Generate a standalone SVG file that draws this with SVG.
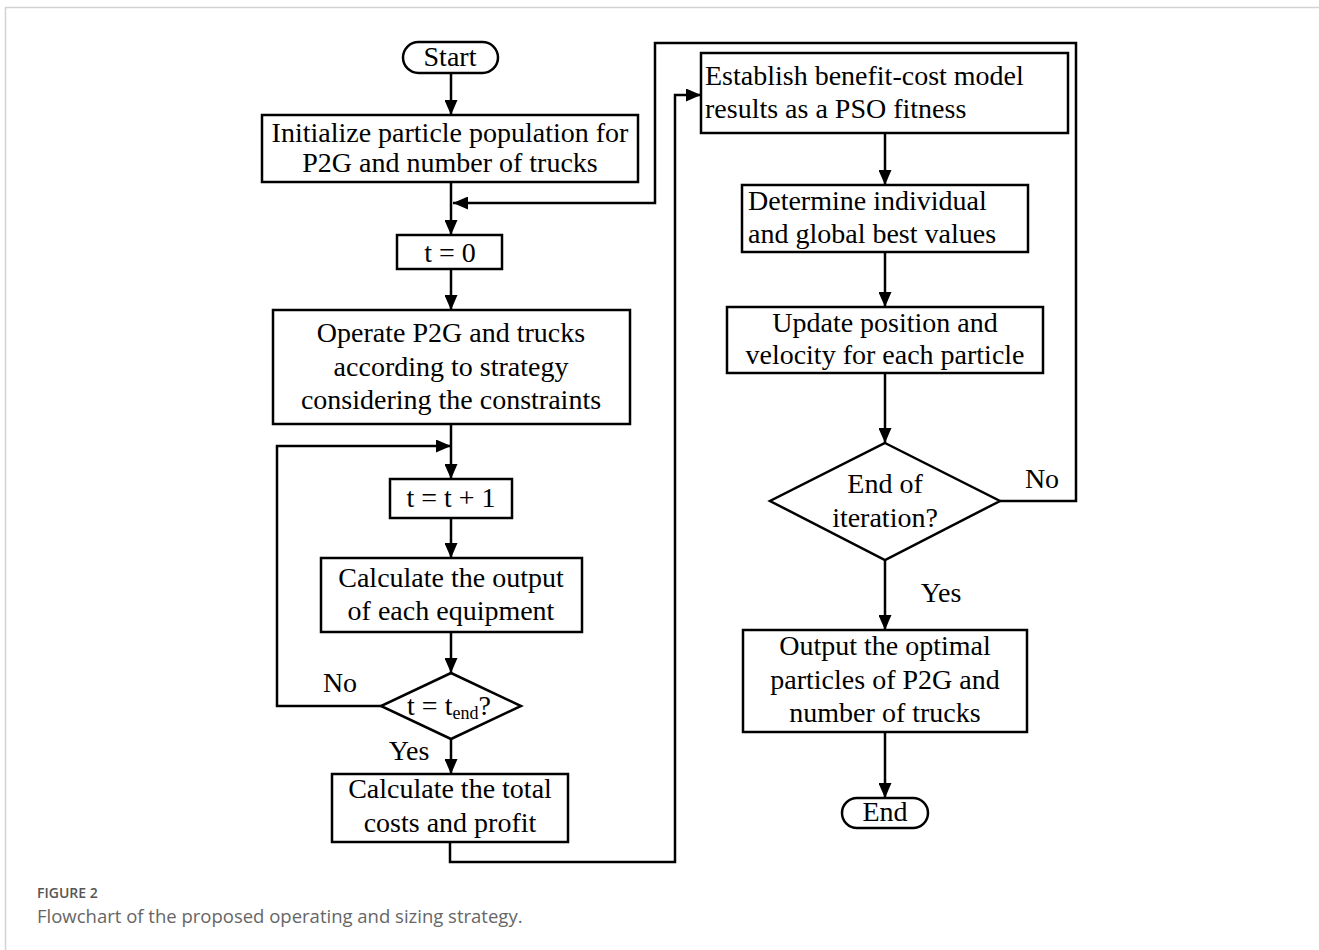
<svg xmlns="http://www.w3.org/2000/svg" width="1319" height="950" viewBox="0 0 1319 950">
<defs>
<marker id="ah" markerUnits="userSpaceOnUse" markerWidth="15" markerHeight="13" refX="15" refY="6.5" orient="auto">
<path d="M0,0 L15,6.5 L0,13 z" fill="#000"/>
</marker>
<style>
.n{fill:#fff;stroke:#000;stroke-width:2.5}
.c{fill:none;stroke:#000;stroke-width:2.5}
.t{font-family:"Liberation Serif","Times New Roman",serif;font-size:28px;fill:#000}
.m{text-anchor:middle}
.cap1{font-family:"Open Sans","Noto Sans",sans-serif;font-size:14px;font-weight:600;fill:#555}
.cap2{font-family:"Open Sans","Noto Sans",sans-serif;font-size:18.5px;fill:#666}
</style>
</defs>
<rect width="1319" height="950" fill="#fff"/>
<path d="M5.5,950 V7.5 H1319" fill="none" stroke="#d2d2d2" stroke-width="1.5"/>

<g id="connectors">
<path class="c" d="M451,73 V115" marker-end="url(#ah)"/>
<path class="c" d="M451,182 V235" marker-end="url(#ah)"/>
<path class="c" d="M1000,501 H1076 V43 H655 V203 H453" marker-end="url(#ah)"/>
<path class="c" d="M451,269 V310" marker-end="url(#ah)"/>
<path class="c" d="M451,424 V479" marker-end="url(#ah)"/>
<path class="c" d="M382,706 H277 V446 H451" marker-end="url(#ah)"/>
<path class="c" d="M451,518 V558" marker-end="url(#ah)"/>
<path class="c" d="M451,632 V673" marker-end="url(#ah)"/>
<path class="c" d="M451,739 V774" marker-end="url(#ah)"/>
<path class="c" d="M450,842 V862 H675 V95 H701" marker-end="url(#ah)"/>
<path class="c" d="M885,133 V185" marker-end="url(#ah)"/>
<path class="c" d="M885,252 V307" marker-end="url(#ah)"/>
<path class="c" d="M885,373 V443" marker-end="url(#ah)"/>
<path class="c" d="M885,560 V630" marker-end="url(#ah)"/>
<path class="c" d="M885,732 V798" marker-end="url(#ah)"/>
<text class="t m" x="340" y="692">No</text>
<text class="t m" x="409" y="760">Yes</text>
<text class="t m" x="1042" y="488">No</text>
<text class="t m" x="941" y="602">Yes</text>
</g>

<g id="start">
<rect class="n" x="403" y="42" width="95" height="31" rx="15.5"/>
<text class="t m" x="450" y="66">Start</text>
</g>
<g id="init">
<rect class="n" x="262" y="115" width="376" height="67"/>
<text class="t m" x="450" y="142">Initialize particle population for</text>
<text class="t m" x="450" y="172">P2G and number of trucks</text>
</g>
<g id="t0">
<rect class="n" x="397" y="235" width="105" height="34"/>
<text class="t m" x="450" y="262">t = 0</text>
</g>
<g id="operate">
<rect class="n" x="273" y="310" width="357" height="114"/>
<text class="t m" x="451" y="342">Operate P2G and trucks</text>
<text class="t m" x="451" y="376">according to strategy</text>
<text class="t m" x="451" y="409">considering the constraints</text>
</g>
<g id="tinc">
<rect class="n" x="390" y="479" width="122" height="39"/>
<text class="t m" x="451" y="507">t = t + 1</text>
</g>
<g id="calcout">
<rect class="n" x="321" y="558" width="261" height="74"/>
<text class="t m" x="451" y="587">Calculate the output</text>
<text class="t m" x="451" y="620">of each equipment</text>
</g>
<g id="tend">
<polygon class="n" points="451,673 521,706 451,739 381,706"/>
<text class="t m" x="449" y="715">t = t<tspan font-size="18" dy="4">end</tspan><tspan dy="-4">?</tspan></text>
</g>
<g id="calctotal">
<rect class="n" x="332" y="774" width="236" height="68"/>
<text class="t m" x="450" y="798">Calculate the total</text>
<text class="t m" x="450" y="832">costs and profit</text>
</g>
<g id="establish">
<rect class="n" x="701" y="53" width="367" height="80"/>
<text class="t" x="705" y="85">Establish benefit-cost model</text>
<text class="t" x="705" y="118">results as a PSO fitness</text>
</g>
<g id="determine">
<rect class="n" x="742" y="185" width="286" height="67"/>
<text class="t" x="748" y="210">Determine individual</text>
<text class="t" x="748" y="243">and global best values</text>
</g>
<g id="update">
<rect class="n" x="727" y="307" width="316" height="66"/>
<text class="t m" x="885" y="332">Update position and</text>
<text class="t m" x="885" y="364">velocity for each particle</text>
</g>
<g id="enditer">
<polygon class="n" points="885,443 1000,501 885,560 770,501"/>
<text class="t m" x="885" y="493">End of</text>
<text class="t m" x="885" y="527">iteration?</text>
</g>
<g id="output">
<rect class="n" x="743" y="630" width="284" height="102"/>
<text class="t m" x="885" y="655">Output the optimal</text>
<text class="t m" x="885" y="689">particles of P2G and</text>
<text class="t m" x="885" y="722">number of trucks</text>
</g>
<g id="end">
<rect class="n" x="842" y="798" width="86" height="30" rx="15"/>
<text class="t m" x="885" y="821">End</text>
</g>

<g id="caption">
<text class="cap1" x="37" y="898">FIGURE 2</text>
<text class="cap2" x="37" y="923">Flowchart of the proposed operating and sizing strategy.</text>
</g>
</svg>
